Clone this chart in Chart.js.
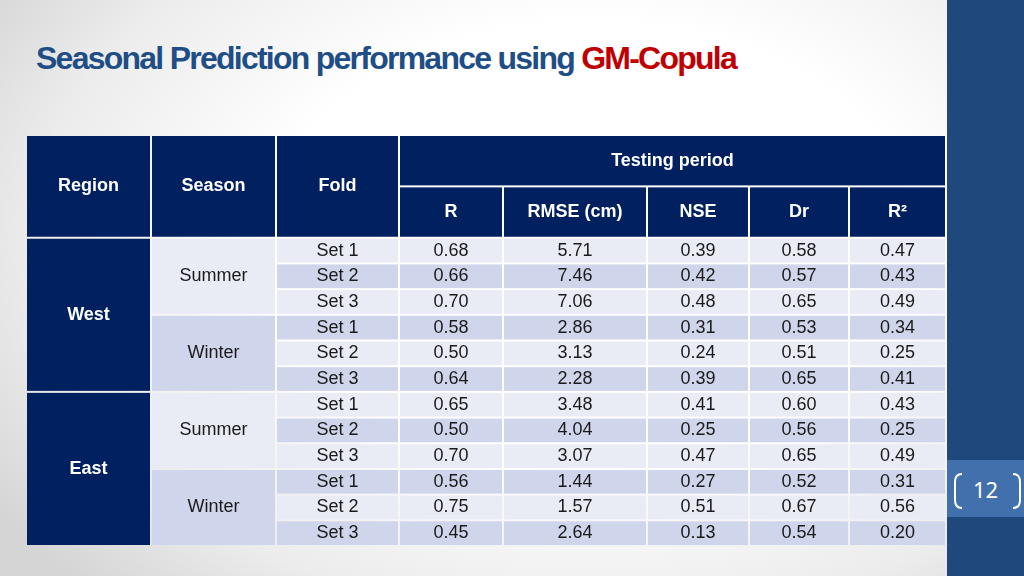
<!DOCTYPE html>
<html lang="en">
<head>
<meta charset="UTF-8">
<title>Seasonal Prediction performance using GM-Copula</title>
<script src="https://cdn.jsdelivr.net/npm/chart.js"></script>
<style>
  html, body { margin: 0; padding: 0; }
  body {
    width: 1024px; height: 576px; overflow: hidden; position: relative;
    font-family: "Liberation Sans", Arial, sans-serif;
    background: radial-gradient(ellipse 70% 85% at 58% 42%, #ffffff 45%, #ececec 78%, #d5d5d5 100%);
  }
  #title { position: absolute; left: 36px; top: 42px; font-weight: bold; font-size: 32px; line-height: 32px; color: #1F4E86; white-space: nowrap; }
  #title span { color: #C00000; }
  #band { position: absolute; left: 947px; top: 0; width: 77px; height: 576px; background: #1F497D; }
  #pageBox { position: absolute; left: 947px; top: 460px; width: 77px; height: 57px; background: #4270AC; }
  #pageBox svg { position: absolute; left: 0; top: 0; }
  #pageNum { position: absolute; left: 0; width: 77px; top: 16px; text-align: center; color: #fff; font-family: "Noto Sans", sans-serif; font-size: 22px; line-height: 26px; }
  #tableChart { position: absolute; left: 26px; top: 135px; }
</style>
</head>
<body>
  <div id="title">Seasonal Prediction performance using <span>GM-Copula</span></div>
  <div id="band"></div>
  <div id="pageBox">
    <svg width="77" height="57">
      <path d="M15 14 Q8 14 8 22 L8 40 Q8 48 15 48" stroke="#fff" stroke-width="2" fill="none"/>
      <path d="M66 14 Q73 14 73 22 L73 40 Q73 48 66 48" stroke="#fff" stroke-width="2" fill="none"/>
    </svg>
    <div id="pageNum">12</div>
  </div>
  <canvas id="tableChart" width="920" height="411"></canvas>

  <script>
    // table contents
    const regions = ['West', 'East'];
    const seasons = ['Summer', 'Winter'];
    const folds = ['Set 1', 'Set 2', 'Set 3'];
    const leftHeaders = ['Region', 'Season', 'Fold'];
    const groupHeader = 'Testing period';
    const metricNames = ['R', 'RMSE (cm)', 'NSE', 'Dr', 'R²'];

    const valR    = [0.68, 0.66, 0.70, 0.58, 0.50, 0.64, 0.65, 0.50, 0.70, 0.56, 0.75, 0.45];
    const valRMSE = [5.71, 7.46, 7.06, 2.86, 3.13, 2.28, 3.48, 4.04, 3.07, 1.44, 1.57, 2.64];
    const valNSE  = [0.39, 0.42, 0.48, 0.31, 0.24, 0.39, 0.41, 0.25, 0.47, 0.27, 0.51, 0.13];
    const valDr   = [0.58, 0.57, 0.65, 0.53, 0.51, 0.65, 0.60, 0.56, 0.65, 0.52, 0.67, 0.54];
    const valR2   = [0.47, 0.43, 0.49, 0.34, 0.25, 0.41, 0.43, 0.25, 0.49, 0.31, 0.56, 0.20];

    // layout
    const colWidths = [125, 125, 123, 104, 144, 102, 100, 97];
    const headRows = 4;
    const edges = [0];
    colWidths.forEach(w => edges.push(edges[edges.length - 1] + w));
    const bodyRows = regions.length * seasons.length * folds.length;

    const NAVY = '#002060', LIGHT = '#E9EBF5', DARK = '#CFD5EA';
    const metricVals = [valR, valRMSE, valNSE, valDr, valR2];

    // stretch title to the slide width
    const title = document.getElementById('title');
    const tw = title.getBoundingClientRect().width;
    title.style.letterSpacing = ((700 - tw) / title.textContent.length) + 'px';

    const datasets = metricVals.map((vals, m) => ({
      label: metricNames[m],
      data: vals.map((v, k) => ({ x: (edges[3 + m] + edges[4 + m]) / 2, y: headRows + k + 0.5, v })),
      pointRadius: 0,
      showLine: false
    }));

    const tablePlugin = {
      id: 'tableCells',
      beforeDatasetsDraw(chart) {
        const { ctx, scales: { x, y } } = chart;
        const cell = (c0, c1, r0, r1, color) => {
          const px0 = x.getPixelForValue(edges[c0]), px1 = x.getPixelForValue(edges[c1]);
          const py0 = y.getPixelForValue(r0), py1 = y.getPixelForValue(r1);
          ctx.fillStyle = color;
          ctx.fillRect(px0 + 1, py0 + 1, px1 - px0 - 2, py1 - py0 - 2);
        };
        ctx.save();
        // header
        for (let c = 0; c < 3; c++) cell(c, c + 1, 0, headRows, NAVY);
        cell(3, 8, 0, 2, NAVY);
        for (let c = 3; c < 8; c++) cell(c, c + 1, 2, headRows, NAVY);
        // body
        const perRegion = seasons.length * folds.length;
        regions.forEach((r, i) => {
          cell(0, 1, headRows + i * perRegion, headRows + (i + 1) * perRegion, NAVY);
          seasons.forEach((s, j) => {
            const r0 = headRows + i * perRegion + j * folds.length;
            cell(1, 2, r0, r0 + folds.length, j % 2 ? DARK : LIGHT);
          });
        });
        for (let k = 0; k < bodyRows; k++) {
          for (let c = 2; c < 8; c++) cell(c, c + 1, headRows + k, headRows + k + 1, k % 2 ? DARK : LIGHT);
        }
        ctx.restore();
      },
      afterDatasetsDraw(chart) {
        const { ctx, scales: { x, y } } = chart;
        const cx = (c0, c1) => x.getPixelForValue((edges[c0] + edges[c1]) / 2);
        const cy = (r0, r1) => y.getPixelForValue((r0 + r1) / 2);
        ctx.save();
        ctx.textAlign = 'center';
        ctx.textBaseline = 'middle';

        ctx.fillStyle = '#ffffff';
        ctx.font = 'bold 18px "Liberation Sans", Arial, sans-serif';
        leftHeaders.forEach((h, c) => ctx.fillText(h, cx(c, c + 1), cy(0, headRows)));
        ctx.fillText(groupHeader, cx(3, 8), cy(0, 2));
        metricNames.forEach((h, m) => ctx.fillText(h, cx(3 + m, 4 + m), cy(2, headRows)));

        const perRegion = seasons.length * folds.length;
        regions.forEach((r, i) => {
          const r0 = headRows + i * perRegion;
          ctx.fillStyle = '#ffffff';
          ctx.font = 'bold 18px "Liberation Sans", Arial, sans-serif';
          ctx.fillText(r, cx(0, 1), cy(r0, r0 + perRegion));
          ctx.fillStyle = '#1a1a1a';
          ctx.font = '18px "Liberation Sans", Arial, sans-serif';
          seasons.forEach((s, j) => {
            const s0 = r0 + j * folds.length;
            ctx.fillText(s, cx(1, 2), cy(s0, s0 + folds.length));
            folds.forEach((f, k) => ctx.fillText(f, cx(2, 3), cy(s0 + k, s0 + k + 1)));
          });
        });

        ctx.fillStyle = '#1a1a1a';
        ctx.font = '18px "Liberation Sans", Arial, sans-serif';
        chart.data.datasets.forEach((ds, d) => {
          chart.getDatasetMeta(d).data.forEach((pt, k) => {
            ctx.fillText(ds.data[k].v.toFixed(2), pt.x, pt.y);
          });
        });
        ctx.restore();
      }
    };

    new Chart(document.getElementById('tableChart'), {
      type: 'scatter',
      data: { datasets },
      options: {
        responsive: false,
        animation: false,
        clip: false,
        layout: { padding: 0 },
        plugins: { legend: { display: false }, tooltip: { enabled: false } },
        scales: {
          x: { type: 'linear', min: 0, max: edges[edges.length - 1], display: false },
          y: { type: 'linear', min: 0, max: headRows + bodyRows, reverse: true, display: false }
        }
      },
      plugins: [tablePlugin]
    });
  </script>
</body>
</html>
